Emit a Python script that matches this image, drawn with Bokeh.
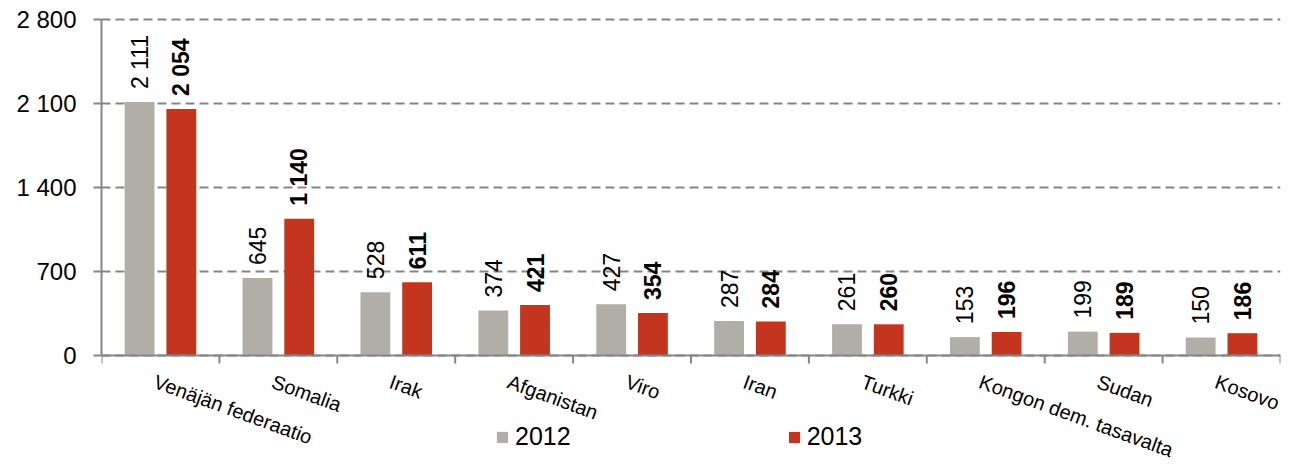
import math
import numpy as np
from bokeh.plotting import figure
from bokeh.models import ColumnDataSource, FixedTicker, Range1d, Span
from bokeh.core.properties import value
from bokeh.transform import dodge
from bokeh.embed import file_html
from bokeh.resources import INLINE

countries = ["Venäjän federaatio", "Somalia", "Irak", "Afganistan", "Viro",
             "Iran", "Turkki", "Kongon dem. tasavalta", "Sudan", "Kosovo"]
v2012 = [2111, 645, 528, 374, 427, 287, 261, 153, 199, 150]
v2013 = [2054, 1140, 611, 421, 354, 284, 260, 196, 189, 186]
series = ["2012", "2013"]
y_ticks = [0, 700, 1400, 2100, 2800]

GRAY = "#B1AEA7"
RED = "#C4351F"
AXIS = "#868686"
FONT = "Liberation Sans"


def fmt(v):
    return f"{v:,}".replace(",", " ")


n = len(countries)
centers = (np.arange(n) + 0.5).tolist()
bounds = np.arange(n + 1).tolist()

src = ColumnDataSource(dict(
    x=centers,
    name=countries,
    a=v2012,
    b=v2013,
    la=[fmt(v) for v in v2012],
    lb=[fmt(v) for v in v2013],
))

# frame runs from the top down to the bottom of the canvas, so that the
# category labels and the legend can live below y = 0 without being clipped
p = figure(width=1304, height=464, output_backend="svg", toolbar_location=None,
           x_range=Range1d(0, n), y_range=Range1d(-908, 2816),
           x_axis_location=None,
           min_border_left=101, min_border_right=24, min_border_top=17,
           min_border_bottom=0)
p.outline_line_color = None
p.background_fill_color = "white"

OFF = 0.177
W = 0.253
p.vbar(x=dodge("x", -OFF, range=p.x_range), top="a", width=W, source=src,
       fill_color=GRAY, line_color=None, legend_label=series[0])
p.vbar(x=dodge("x", OFF, range=p.x_range), top="b", width=W, source=src,
       fill_color=RED, line_color=None, legend_label=series[1])

p.text(x=dodge("x", -OFF, range=p.x_range), y="a", text="la", source=src,
       angle=math.pi / 2, text_align="left", text_baseline="middle",
       y_offset=-13, text_font=value(FONT), text_font_size="23px",
       text_color="black")
p.text(x=dodge("x", OFF, range=p.x_range), y="b", text="lb", source=src,
       angle=math.pi / 2, text_align="left", text_baseline="middle",
       y_offset=-13, text_font=value(FONT), text_font_size="23px",
       text_font_style="bold", text_color="black")

# y axis
ya = p.yaxis[0]
ya.ticker = FixedTicker(ticks=y_ticks)
ya.bounds = (y_ticks[0], y_ticks[-1])
ya.major_label_overrides = {t: fmt(t) for t in y_ticks}
ya.axis_line_color = AXIS
ya.axis_line_width = 2
ya.major_tick_line_color = AXIS
ya.major_tick_line_width = 2
ya.major_tick_in = 0
ya.major_tick_out = 8
ya.minor_tick_line_color = None
ya.major_label_text_font = FONT
ya.major_label_text_font_size = "24px"
ya.major_label_text_color = "black"
ya.major_label_standoff = 17

# x axis: baseline, ticks between categories, slanted category labels
p.add_layout(Span(location=0, dimension="width", line_color=AXIS, line_width=2))
p.ray(x=bounds, y=[0] * len(bounds), length=8, length_units="screen",
      angle=-math.pi / 2, line_color=AXIS, line_width=2)
p.text(x="x", y=0, text="name", source=src, angle=-math.radians(20),
       text_align="left", text_baseline="top", y_offset=15, x_offset=-2,
       text_font=value(FONT), text_font_size="20px", text_color="black")

p.xgrid.grid_line_color = None
p.ygrid.ticker = FixedTicker(ticks=y_ticks)
p.ygrid.grid_line_color = AXIS
p.ygrid.grid_line_width = 2
p.ygrid.grid_line_dash = "9 5"

lg = p.legend[0]
lg.orientation = "horizontal"
lg.location = (394, 13)
lg.glyph_width = 14
lg.glyph_height = 14
lg.label_standoff = 6
lg.spacing = 216
lg.padding = 0
lg.margin = 0
lg.border_line_color = None
lg.background_fill_alpha = 0
lg.label_text_font = FONT
lg.label_text_font_size = "25px"
lg.label_text_color = "black"

open("out.html", "w").write(file_html(p, INLINE))
